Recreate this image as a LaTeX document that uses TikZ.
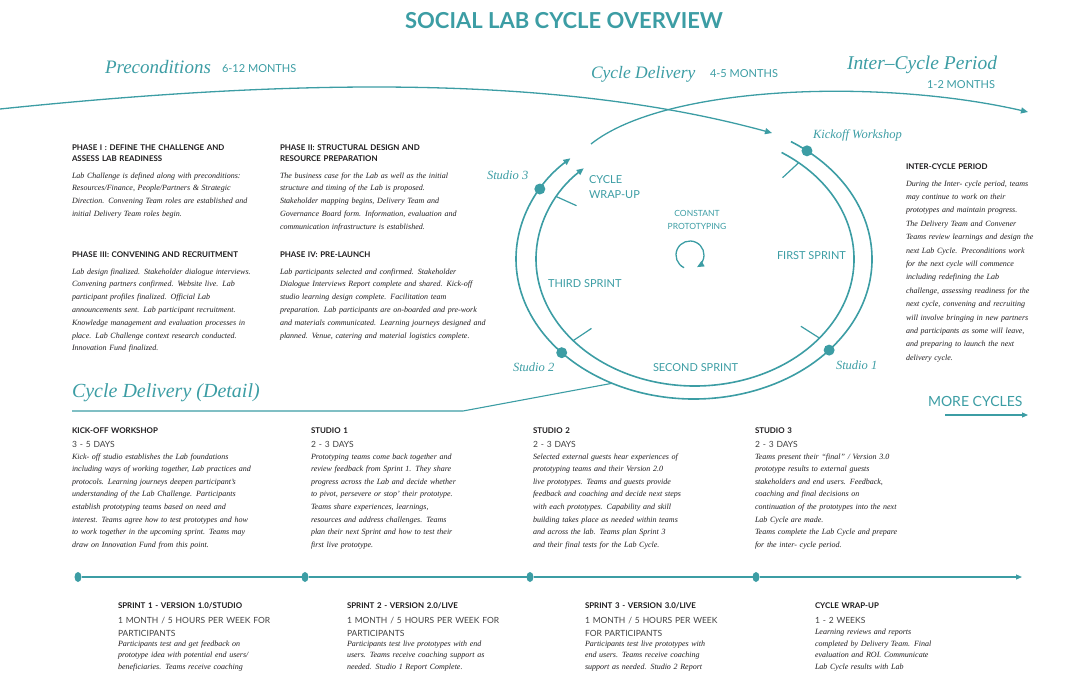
\documentclass[tikz,border=0pt]{standalone}
\usepackage{fontspec}
\setmainfont{Liberation Serif}
\setsansfont{Lato}
\usetikzlibrary{arrows.meta,calc,shapes.geometric}
\definecolor{tealc}{RGB}{60,157,164}
\definecolor{ink}{RGB}{30,28,30}
\definecolor{greyc}{RGB}{65,65,65}
\begin{document}
\begin{tikzpicture}[x=1pt,y=-1pt,
  every node/.style={inner sep=0pt,outer sep=0pt},
  ttl/.style={font=\sffamily\bfseries\fontsize{22}{26}\selectfont,text=tealc,anchor=base},
  bigit/.style={font=\itshape\fontsize{#1}{#1}\selectfont,text=tealc,anchor=base west},
  months/.style={font=\sffamily\fontsize{11}{13}\selectfont,text=tealc,anchor=base west},
  smit/.style={font=\itshape\fontsize{12.5}{14}\selectfont,text=tealc,anchor=base west},
  inlab/.style={font=\sffamily\fontsize{11}{15}\selectfont,text=tealc,anchor=base west},
  head/.style={font=\sffamily\bfseries\fontsize{7.9}{11.5}\selectfont,text=ink,anchor=base west,align=left,text width=200pt},
  days/.style={font=\sffamily\fontsize{8.5}{13}\selectfont,text=greyc,anchor=base west,align=left,text width=200pt},
  body/.style={font=\itshape\fontsize{8}{#1}\selectfont,text=ink,anchor=base west,align=left,text width=210pt},
  body/.default=12.8,
  cyc/.style={draw=tealc,line width=1.6pt},
  curve/.style={draw=tealc,line width=1.3pt},
  tickl/.style={draw=tealc,line width=1.2pt},
  cdot/.style={circle,fill=tealc,minimum size=11pt},
  tdot/.style={ellipse,fill=tealc,minimum width=7pt,minimum height=10pt},
  tip/.style={-{Triangle[length=7pt,width=6pt]}}
]
\useasboundingbox (0,0) rectangle (1080,675);

% ---- title and period headings
\node[ttl] (title) at (564,28) {SOCIAL LAB CYCLE OVERVIEW};
\node[bigit=19] (pre) at (105,73) {Preconditions};
\node[months] (prem) at (222,72) {6-12 MONTHS};
\node[bigit=17.5] (cdel) at (591,78) {Cycle Delivery};
\node[months] (cdelm) at (710,77) {4-5 MONTHS};
\node[bigit=19.5] (icp) at (847,69) {Inter–Cycle Period};
\node[months,anchor=base east] (icpm) at (995,88) {1-2 MONTHS};

% ---- top sweeping arrows
\coordinate (p0) at (0,109);
\coordinate (p1) at (772,133);
\draw[curve,tip] (p0) .. controls (300,78) and (560,75) .. (p1);
\coordinate (q0) at (591,144);
\coordinate (q1) at (1028,112);
\draw[curve,tip] (q0) .. controls (665,85) and (880,78) .. (q1);

% ---- cycle
\coordinate (outc) at (694,259);
\coordinate (inc) at (695,259);
\coordinate (pc) at (690,255);
\coordinate (oa) at ($(outc)+(-57:178 and 140)$);
\coordinate (ia) at ($(inc)+(-57:159 and 127)$);
\draw[cyc,tip] (oa) arc[start angle=-57,end angle=226,x radius=178,y radius=140];
\draw[cyc,tip] (ia) arc[start angle=-57,end angle=225.6,x radius=159,y radius=127];

\coordinate (k1) at ($(inc)+(-49.3:159 and 127)$);
\coordinate (k2) at ($(inc)+(38.5:159 and 127)$);
\coordinate (k3) at ($(inc)+(140:159 and 127)$);
\coordinate (k4) at ($(inc)+(209.4:159 and 127)$);
\foreach \k in {k1,k2,k3,k4}{\draw[tickl] (\k) -- ($(\k)!22pt!(inc)$);}

\node[cdot] (kd) at ($(outc)+(-50.6:178 and 140)$) {};
\node[cdot] (s1d) at ($(outc)+(40.6:178 and 140)$) {};
\node[cdot] (s2d) at ($(outc)+(138:178 and 140)$) {};
\node[cdot] (s3d) at ($(outc)+(210:178 and 140)$) {};

\draw[draw=tealc,line width=1.3pt,tip] ($(pc)+(115:14)$) arc[start angle=115,end angle=420,radius=14];

\node[smit] (kl) at (813,138) {Kickoff Workshop};
\node[smit] (s3l) at (487,179) {Studio 3};
\node[smit] (s2l) at (513,371) {Studio 2};
\node[smit] (s1l) at (836,369) {Studio 1};
\node[inlab,align=left,text width=60pt] (cw) at (589,183) {CYCLE\\WRAP-UP};
\node[font=\sffamily\fontsize{8.5}{13}\selectfont,text=tealc,align=center,text width=80pt,anchor=base] (cp) at (697,216) {CONSTANT\\PROTOTYPING};
\node[inlab] (fs) at (777,259) {FIRST SPRINT};
\node[inlab] (ts) at (548,287) {THIRD SPRINT};
\node[inlab] (ss) at (653,371) {SECOND SPRINT};

% ---- phases
\node[head] (h1) at (72,150) {PHASE I : DEFINE THE CHALLENGE AND\\ASSESS LAB READINESS};
\node[body,text width=200pt] (b1) at (72,178) {Lab Challenge is defined along with preconditions:\\Resources/Finance, People/Partners \& Strategic\\Direction. Convening Team roles are established and\\initial Delivery Team roles begin.};
\node[head] (h2) at (280,150) {PHASE II: STRUCTURAL DESIGN AND\\RESOURCE PREPARATION};
\node[body] (b2) at (280,178) {The business case for the Lab as well as the initial\\structure and timing of the Lab is proposed.\\Stakeholder mapping begins, Delivery Team and\\Governance Board form. Information, evaluation and\\communication infrastructure is established.};
\node[head] (h3) at (72,257) {PHASE III: CONVENING AND RECRUITMENT};
\node[body,text width=200pt] (b3) at (72,274) {Lab design finalized. Stakeholder dialogue interviews.\\Convening partners confirmed. Website live. Lab\\participant profiles finalized. Official Lab\\announcements sent. Lab participant recruitment.\\Knowledge management and evaluation processes in\\place. Lab Challenge context research conducted.\\Innovation Fund finalized.};
\node[head] (h4) at (280,257) {PHASE IV: PRE-LAUNCH};
\node[body] (b4) at (280,274) {Lab participants selected and confirmed. Stakeholder\\Dialogue Interviews Report complete and shared. Kick-off\\studio learning design complete. Facilitation team\\preparation. Lab participants are on-boarded and pre-work\\and materials communicated. Learning journeys designed and\\planned. Venue, catering and material logistics complete.};

\node[head,text width=170pt] (h5) at (906,169) {INTER-CYCLE PERIOD};
\node[body=13.4,text width=170pt] (b5) at (906,186) {During the Inter- cycle period, teams\\may continue to work on their\\prototypes and maintain progress.\\The Delivery Team and Convener\\Teams review learnings and design the\\next Lab Cycle. Preconditions work\\for the next cycle will commence\\including redefining the Lab\\challenge, assessing readiness for the\\next cycle, convening and recruiting\\will involve bringing in new partners\\and participants as some will leave,\\and preparing to launch the next\\delivery cycle.};

% ---- cycle delivery detail
\node[bigit=20] (cdd) at (72,397) {Cycle Delivery (Detail)};
\coordinate (d0) at (72,411);
\coordinate (d1) at (463,411);
\coordinate (d2) at ($(outc)+(117.4:178 and 140)$);
\draw[curve,line width=1.1pt] (d0) -- (d1) -- (d2);

\node[months,font=\sffamily\fontsize{14}{16}\selectfont] (mc) at (928,406) {MORE CYCLES};
\coordinate (m0) at (945,415);
\coordinate (m1) at (1028,415);
\draw[curve,line width=1.1pt,-{Triangle[length=6pt,width=5pt]}] (m0) -- (m1);

\node[head] (hk) at (72,433) {KICK-OFF WORKSHOP};
\node[days] (dk) at (72,447) {3 - 5 DAYS};
\node[body=12.6,text width=230pt] (bk) at (72,459) {Kick- off studio establishes the Lab foundations\\including ways of working together, Lab practices and\\protocols. Learning journeys deepen participant's\\understanding of the Lab Challenge. Participants\\establish prototyping teams based on need and\\interest. Teams agree how to test prototypes and how\\to work together in the upcoming sprint. Teams may\\draw on Innovation Fund from this point.};

\node[head] (hs1) at (311,433) {STUDIO 1};
\node[days] (ds1) at (311,447) {2 - 3 DAYS};
\node[body=12.6,text width=215pt] (bs1) at (311,459) {Prototyping teams come back together and\\review feedback from Sprint 1. They share\\progress across the Lab and decide whether\\to pivot, persevere or stop' their prototype.\\Teams share experiences, learnings,\\resources and address challenges. Teams\\plan their next Sprint and how to test their\\first live prototype.};

\node[head] (hs2) at (533,433) {STUDIO 2};
\node[days] (ds2) at (533,447) {2 - 3 DAYS};
\node[body=12.6,text width=215pt] (bs2) at (533,459) {Selected external guests hear experiences of\\prototyping teams and their Version 2.0\\live prototypes. Teams and guests provide\\feedback and coaching and decide next steps\\with each prototypes. Capability and skill\\building takes place as needed within teams\\and across the lab. Teams plan Sprint 3\\and their final tests for the Lab Cycle.};

\node[head] (hs3) at (755,433) {STUDIO 3};
\node[days] (ds3) at (755,447) {2 - 3 DAYS};
\node[body=12.6,text width=215pt] (bs3) at (755,459) {Teams present their “final” / Version 3.0\\prototype results to external guests\\stakeholders and end users. Feedback,\\coaching and final decisions on\\continuation of the prototypes into the next\\Lab Cycle are made.\\Teams complete the Lab Cycle and prepare\\for the inter- cycle period.};

% ---- timeline
\node[tdot] (t1) at (78,577) {};
\node[tdot] (t2) at (305,577) {};
\node[tdot] (t3) at (530,577) {};
\node[tdot] (t4) at (756,577) {};
\coordinate (tend) at (1022,577);
\draw[curve,line width=1.2pt,-{Triangle[length=6pt,width=5pt]}] (t1) -- (t2) -- (t3) -- (t4) -- (tend);

% ---- sprints
\node[head] (hp1) at (118,608) {SPRINT 1 - VERSION 1.0/STUDIO};
\node[days] (dp1) at (118,623) {1 MONTH / 5 HOURS PER WEEK FOR\\PARTICIPANTS};
\node[body=11.5,text width=200pt] (bp1) at (118,646) {Participants test and get feedback on\\prototype idea with potential end users/\\beneficiaries. Teams receive coaching};

\node[head] (hp2) at (347,608) {SPRINT 2 - VERSION 2.0/LIVE};
\node[days] (dp2) at (347,623) {1 MONTH / 5 HOURS PER WEEK FOR\\PARTICIPANTS};
\node[body=11.5,text width=200pt] (bp2) at (347,646) {Participants test live prototypes with end\\users. Teams receive coaching support as\\needed. Studio 1 Report Complete.};

\node[head] (hp3) at (585,608) {SPRINT 3 - VERSION 3.0/LIVE};
\node[days] (dp3) at (585,623) {1 MONTH / 5 HOURS PER WEEK\\FOR PARTICIPANTS};
\node[body=11.5,text width=200pt] (bp3) at (585,646) {Participants test live prototypes with\\end users. Teams receive coaching\\support as needed. Studio 2 Report};

\node[head] (hw) at (815,608) {CYCLE WRAP-UP};
\node[days] (dw) at (815,623) {1 - 2 WEEKS};
\node[body=11.5,text width=200pt] (bw) at (815,634.5) {Learning reviews and reports\\completed by Delivery Team. Final\\evaluation and ROI. Communicate\\Lab Cycle results with Lab};
\end{tikzpicture}
\end{document}
